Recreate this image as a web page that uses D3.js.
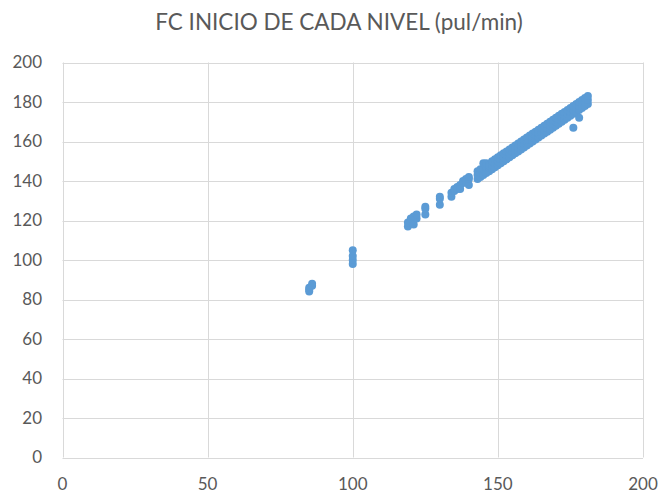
<!DOCTYPE html>
<html><head><meta charset="utf-8">
<script src="https://cdn.jsdelivr.net/npm/d3@7"></script>
<style>body{margin:0;background:#fff}svg{display:block}</style>
</head><body>
<svg id="c" width="660" height="493"></svg>
<script>
const title = "FC INICIO DE CADA NIVEL (pul/min)";
const xTicks = [0, 50, 100, 150, 200];
const yTicks = [0, 20, 40, 60, 80, 100, 120, 140, 160, 180, 200];
// [x, y] pairs
const points = [
 [85,84],[85,86],[86,87],[86,88],[85,85],
 [100,98],[100,100],[100,102],[100,105],
 [119,117],[119,119],[120,120],[120,121],[121,118],[121,122],[122,121],[122,123],
 [125,123],[125,126],[125,127],
 [130,128],[130,131],[130,132],
 [134,132],[134,134],[135,135],[135,136],[136,136],[136,137],[137,138],[137,136],[138,139],[138,140],[139,140],[139,141],[140,138],[140,141],[140,142],
 [143,141],[143,143],[143,145],[144,142],[144,144],[144,146],[145,143],[145,146],[145,149],
 [146,144],[146,147],[146,149],[147,145],[147,147],[147,148],[148,146],[148,148],[148,150],
 [149,147],[149,149],[149,151],[150,148],[150,150],[150,152],[151,149],[151,151],[151,153],
 [152,150],[152,152],[152,154],[153,151],[153,153],[153,155],[154,152],[154,154],[154,156],
 [155,153],[155,155],[155,157],[156,154],[156,156],[156,158],[157,155],[157,157],[157,159],
 [158,156],[158,158],[158,160],[159,157],[159,159],[159,161],[160,158],[160,160],[160,162],
 [161,159],[161,161],[161,163],[162,160],[162,162],[162,164],[163,161],[163,163],[163,165],
 [164,162],[164,164],[164,166],[165,163],[165,165],[165,167],[166,164],[166,166],[166,168],
 [167,165],[167,167],[167,169],[168,166],[168,168],[168,170],[169,167],[169,169],[169,171],
 [170,168],[170,170],[170,172],[171,169],[171,171],[171,173],[172,170],[172,172],[172,174],
 [173,171],[173,173],[173,175],[174,172],[174,174],[174,176],[175,173],[175,175],[175,177],
 [176,167],[176,174],[176,176],[176,178],[177,175],[177,177],[177,179],
 [178,172],[178,176],[178,178],[178,180],[179,177],[179,179],[179,181],
 [180,178],[180,180],[180,182],[181,179],[181,181],[181,183]
];

const svg = d3.select("#c");
const font = "Lato, 'Open Sans', sans-serif";
const L = 62.5, R = 643, T = 62.5, B = 457.5;
const x = d3.scaleLinear().domain([0, 200]).range([L, R]);
const y = d3.scaleLinear().domain([0, 200]).range([B, T]);

const g = svg.append("g");
g.selectAll("line.h").data(yTicks).join("line")
  .attr("x1", L).attr("x2", R)
  .attr("y1", d => Math.round(y(d)) + 0.5).attr("y2", d => Math.round(y(d)) + 0.5)
  .attr("stroke", "#d9d9d9").attr("stroke-width", 1);
g.selectAll("line.v").data(xTicks).join("line")
  .attr("y1", T).attr("y2", B)
  .attr("x1", d => Math.round(x(d)) + 0.5).attr("x2", d => Math.round(x(d)) + 0.5)
  .attr("stroke", "#d9d9d9").attr("stroke-width", 1);

g.selectAll("text.yl").data(yTicks).join("text")
  .attr("x", 42).attr("y", d => y(d)).attr("dy", "0.35em")
  .attr("text-anchor", "end").attr("font-family", font).attr("font-size", 17)
  .attr("fill", "#595959").text(d => d);
g.selectAll("text.xl").data(xTicks).join("text")
  .attr("x", d => x(d)).attr("y", 490)
  .attr("text-anchor", "middle").attr("font-family", font).attr("font-size", 17)
  .attr("fill", "#595959").text(d => d);

svg.append("text").attr("x", 339).attr("y", 30)
  .attr("text-anchor", "middle").attr("font-family", font).attr("font-size", 22.5)
  .attr("fill", "#595959").text(title);

svg.append("g").selectAll("circle").data(points).join("circle")
  .attr("cx", d => x(d[0])).attr("cy", d => y(d[1])).attr("r", 4)
  .attr("fill", "#5b9bd5");
</script>
</body></html>
